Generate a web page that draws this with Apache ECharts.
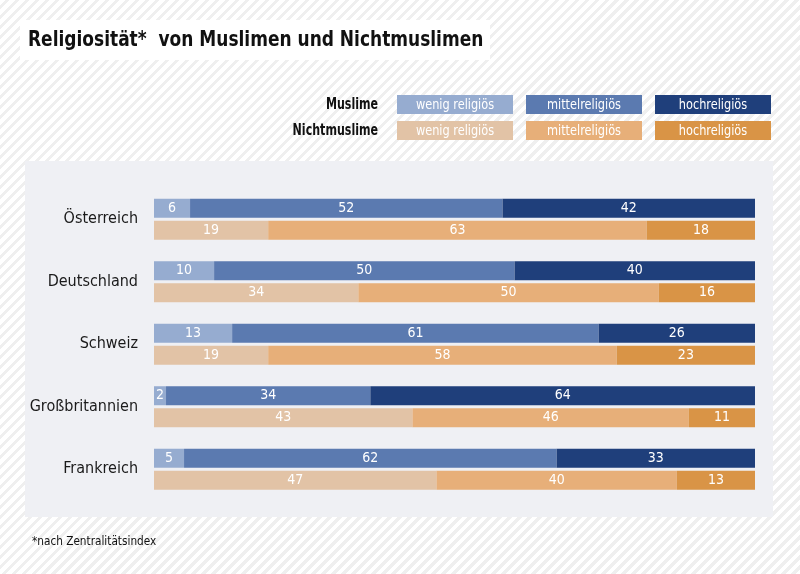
<!DOCTYPE html>
<html lang="de">
<head>
    <meta charset="UTF-8">
    <title>Religiosität von Muslimen und Nichtmuslimen</title>
    <script src="https://cdn.jsdelivr.net/npm/echarts/dist/echarts.min.js"></script>
    <style>
        html, body {
            margin: 0;
            padding: 0;
            background: repeating-linear-gradient(135deg, #ffffff 0px, #ffffff 3.6px, #efefef 3.6px, #efefef 7.07px);
        }
        #chart {
            width: 800px;
            height: 574px;
        }
    </style>
</head>
<body>
<div id="chart"></div>

<script>
    // Data (percent)
    var countries = ['Österreich', 'Deutschland', 'Schweiz', 'Großbritannien', 'Frankreich'];

    var muslimeWenig  = [6, 10, 13, 2, 5];
    var muslimeMittel = [52, 50, 61, 34, 62];
    var muslimeHoch   = [42, 40, 26, 64, 33];

    var nichtWenig  = [19, 34, 19, 43, 47];
    var nichtMittel = [63, 50, 58, 46, 40];
    var nichtHoch   = [18, 16, 23, 11, 13];

    var levelNames = ['wenig religiös', 'mittelreligiös', 'hochreligiös'];
    var groupNames = ['Muslime', 'Nichtmuslime'];

    var blues   = ['#96acd0', '#5b7ab0', '#1f3f7b'];
    var oranges = ['#e2c3a6', '#e7af79', '#d99446'];

    var fontFamily = '"DejaVu Sans Condensed", "Liberation Sans Narrow", "Roboto", sans-serif';

    var chart = echarts.init(document.getElementById('chart'), null, { renderer: 'canvas' });

    function barSeries(name, stack, data, color) {
        return {
            name: name,
            type: 'bar',
            stack: stack,
            data: data,
            barWidth: 19,
            barGap: '16%',
            itemStyle: { color: color },
            label: {
                show: true,
                position: 'inside',
                color: '#ffffff',
                fontFamily: fontFamily,
                fontSize: 14
            },
            emphasis: { disabled: true }
        };
    }

    // custom legend boxes (label + coloured box with text inside)
    var legendGraphics = [];
    groupNames.forEach(function (g, row) {
        var y = 95 + row * 26;
        legendGraphics.push({
            type: 'text',
            x: 378,
            y: y + 10,
            scaleX: 0.82,
            style: {
                text: g,
                fill: '#111',
                font: 'bold 15px ' + fontFamily,
                textAlign: 'right',
                textVerticalAlign: 'middle'
            }
        });
        var cols = row === 0 ? blues : oranges;
        levelNames.forEach(function (lv, i) {
            legendGraphics.push({
                type: 'group',
                x: 397 + i * 129,
                y: y,
                children: [
                    { type: 'rect', shape: { x: 0, y: 0, width: 116, height: 19 }, style: { fill: cols[i] } },
                    {
                        type: 'text',
                        x: 58, y: 10,
                        style: {
                            text: lv,
                            fill: '#fff',
                            font: '14px ' + fontFamily,
                            textAlign: 'center',
                            textVerticalAlign: 'middle'
                        },
                        scaleX: 0.9
                    }
                ]
            });
        });
    });

    var options = {
        backgroundColor: 'transparent',
        animation: false,
        graphic: [
            // title box
            { type: 'rect', x: 20, y: 20, z: -1, shape: { width: 470, height: 40 }, style: { fill: '#ffffff' } },
            {
                type: 'text', x: 28, y: 40, scaleX: 0.86,
                style: { text: 'Religiosität*  von Muslimen und Nichtmuslimen', fill: '#111', font: 'bold 22px ' + fontFamily, textVerticalAlign: 'middle' }
            },
            // grey panel
            { type: 'rect', x: 25, y: 161, z: -1, shape: { width: 748, height: 356 }, style: { fill: '#eff0f4' } },
            // footnote
            {
                type: 'text', x: 32, y: 542, scaleX: 0.9,
                style: { text: '*nach Zentralitätsindex', fill: '#111', font: '13px ' + fontFamily, textVerticalAlign: 'middle' }
            }
        ].concat(legendGraphics),
        grid: {
            left: 154,
            right: 45,
            top: 188,
            height: 312.5,
            containLabel: false
        },
        xAxis: {
            type: 'value',
            min: 0,
            max: 100,
            show: false
        },
        yAxis: {
            type: 'category',
            data: countries,
            inverse: true,
            axisLine: { show: false },
            axisTick: { show: false },
            axisLabel: {
                margin: 16,
                color: '#1a1a1a',
                fontFamily: fontFamily,
                fontSize: 16
            }
        },
        series: [
            barSeries('Muslime wenig religiös', 'm', muslimeWenig, blues[0]),
            barSeries('Muslime mittelreligiös', 'm', muslimeMittel, blues[1]),
            barSeries('Muslime hochreligiös', 'm', muslimeHoch, blues[2]),
            barSeries('Nichtmuslime wenig religiös', 'n', nichtWenig, oranges[0]),
            barSeries('Nichtmuslime mittelreligiös', 'n', nichtMittel, oranges[1]),
            barSeries('Nichtmuslime hochreligiös', 'n', nichtHoch, oranges[2])
        ]
    };

    chart.setOption(options);
</script>
</body>
</html>
